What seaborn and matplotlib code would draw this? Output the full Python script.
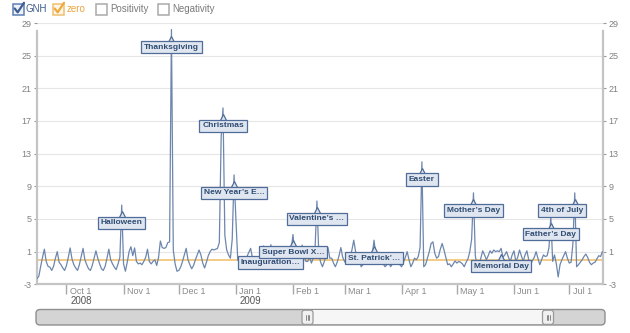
import numpy as np
import pandas as pd
import matplotlib
matplotlib.use("Agg")
import matplotlib.pyplot as plt
import matplotlib.dates as mdates
import matplotlib.transforms as mtransforms
from matplotlib.patches import Rectangle, FancyBboxPatch
import seaborn as sns

# ---------------- data (daily GNH index) ----------------
sep_2008 = [-2.3, -2.0, -0.8, 0.3, 1.3, -0.2, -0.8, -0.9, -1.3, -0.8, 0.2, 1.0, -0.3, -0.6, -1.0, -1.3]
oct_2008 = [-0.7, 0.3, 1.45, 0.1, -0.6, -1.0, -1.3, -0.6, 0.4, 1.4, 0.0, -0.6, -1.1, -1.3, -0.7, 0.2,
            1.1, 0.2, -0.5, -1.1, -1.3, -0.8, 0.2, 1.3, 0.0, -0.5, -0.9, -1.2, -0.5, 0.3, 6.7]
nov_2008 = [-0.5, -1.4, -0.3, 1.0, 1.6, 0.5, 1.45, -0.2, -0.5, -0.4, -0.6, -0.2, 0.3, 1.3, -0.2,
            -0.5, -0.2, 0.0, -0.7, 0.3, 2.3, 1.5, 1.4, 1.5, 2.1, 2.2, 28.2, 1.2, -0.5, -1.4]
dec_2008 = [-1.3, -0.9, -0.2, 0.6, 1.4, 0.0, -0.6, -1.1, -0.7, 0.0, 0.6, 1.2, 0.6, -0.4, -1.0, -0.3,
            0.5, 1.0, 1.3, 1.2, 1.3, 1.4, 2.1, 15.0, 18.6, 3.0, 1.2, 0.6, 0.2, 2.5, 10.4]
jan_2009 = [5.0, 0.0, -0.3, -0.2, -0.3, -0.1, 0.4, 0.9, 1.4, 0.2, -0.2, -0.3, -0.2, 0.1, 0.5, 1.7,
            0.4, 0.0, 0.3, 1.85, 0.2, 0.3, 1.0, 0.2, -0.1, -0.3, -0.2, 0.2, 0.6, 1.3, 1.2]
feb_2009 = [3.1, 0.4, 0.0, 0.4, 0.9, 1.8, 0.5, -0.2, -0.2, 0.3, -0.4, 0.2, 1.5, 7.2, 0.8, -0.3,
            -0.85, -0.2, 0.6, 1.5, 0.2, 0.2, -0.4, -0.85, -0.3, 0.5, 1.5, 0.3]
mar_2009 = [-0.2, -0.5, -0.3, 0.3, 1.2, 2.4, 1.0, 0.2, 0.2, -0.85, -0.6, -0.2, 0.4, 0.2, -0.3, 0.5,
            2.4, 0.5, -0.3, 0.4, -0.2, -0.5, -0.85, -0.6, -0.3, -0.85, -0.5, -0.2, 0.2, -0.4, -0.6]
apr_2009 = [-0.85, -0.3, 0.3, 1.0, 0.0, -0.85, -0.4, 0.2, 0.0, 0.4, 1.5, 12.0, -0.85, -0.6, 0.2,
            1.0, 2.0, 2.2, 0.8, 0.2, 0.4, 1.3, 2.0, 1.2, 0.3, -0.6, -0.5, -0.85, -0.5, -0.15]
may_2009 = [-0.4, -0.2, -0.3, -0.5, -0.85, -0.3, 0.1, 1.0, 2.5, 8.2, 0.5, -0.85, -0.6, 0.2, 1.1,
            0.6, 0.0, 0.5, 1.1, 0.8, 1.2, 1.0, 1.1, 1.0, 1.4, 0.3, 0.6, 1.0, 0.3, -0.2, 0.6]
jun_2009 = [1.1, -0.2, 0.3, 1.2, 0.5, -0.2, 0.6, 1.1, 0.0, -0.6, -0.1, 0.3, 1.0, 0.2, -0.6, 0.0,
            0.6, 0.4, 0.5, 1.5, 5.3, -0.2, 0.6, -0.5, -2.1, -0.6, 0.0, 0.5, 1.0, 0.2]
jul_2009 = [-0.4, -0.3, 2.0, 8.2, -0.85, -0.6, -0.3, 0.0, 0.4, 0.7, 0.3, -0.3, -0.6, -0.4, -0.3,
            0.1, 0.5, 0.4, 1.0]

event_names = ["Halloween", "Thanksgiving", "Christmas", "New Year\u2019s E\u2026",
               "Inauguration\u2026", "Super Bowl X\u2026", "Valentine\u2019s \u2026",
               "St. Patrick\u2019\u2026", "Easter", "Mother\u2019s Day", "Memorial Day",
               "Father\u2019s Day", "4th of July"]
event_dates = ["2008-10-31", "2008-11-27", "2008-12-25", "2008-12-31", "2009-01-20",
               "2009-02-01", "2009-02-14", "2009-03-17", "2009-04-12", "2009-05-10",
               "2009-05-25", "2009-06-21", "2009-07-04"]

month_ticks = ["2008-10-01", "2008-11-01", "2008-12-01", "2009-01-01", "2009-02-01",
               "2009-03-01", "2009-04-01", "2009-05-01", "2009-06-01", "2009-07-01"]
month_labels = ["Oct 1", "Nov 1", "Dec 1", "Jan 1", "Feb 1", "Mar 1", "Apr 1", "May 1",
                "Jun 1", "Jul 1"]
year_ticks = ["2008-10-01", "2009-01-01"]
year_labels = ["2008", "2009"]
y_ticks = [-3, 1, 5, 9, 13, 17, 21, 25, 29]

legend_names = ["GNH", "zero", "Positivity", "Negativity"]

values = (sep_2008 + oct_2008 + nov_2008 + dec_2008 + jan_2009 + feb_2009 + mar_2009 +
          apr_2009 + may_2009 + jun_2009 + jul_2009)
dates = pd.date_range("2008-09-15", periods=len(values), freq="D")
df = pd.DataFrame({"date": dates, "GNH": values})

# ---------------- style ----------------
sns.set_style("white")
plt.rcParams["font.family"] = ["Liberation Sans", "DejaVu Sans"]

W, H = 630, 333
fig = plt.figure(figsize=(W / 100, H / 100), dpi=100)
ax = fig.add_axes([37 / W, 1 - 284.3 / H, 566 / W, 261.3 / H])

line_c = "#6d86ad"
box_fc = "#dfe6ef"
box_ec = "#4f6d98"
box_tc = "#2f4b73"
axis_c = "#c4c4c4"

ax.axhline(0, color="#f2c77e", lw=1.3, zorder=2)
sns.lineplot(data=df, x="date", y="GNH", ax=ax, color=line_c, lw=0.9, zorder=3)

ax.set_xlim(pd.Timestamp("2008-09-15"), pd.Timestamp("2009-07-19 08:00"))
ax.set_ylim(-3, 29)
ax.set_xlabel("")
ax.set_ylabel("")

ax.set_yticks(y_ticks)
ax.set_yticklabels([str(v) for v in y_ticks])
ax.grid(axis="y", color="#e6e6e6", lw=0.8)
ax.grid(axis="x", visible=False)
ax.set_axisbelow(True)
ax.tick_params(axis="y", left=True, right=True, labelleft=True, labelright=True,
               length=2.5, width=0.8, color="#999999", labelsize=6.5,
               labelcolor="#808080", pad=1.5)

ax.set_xticks([pd.Timestamp(d) for d in month_ticks])
ax.tick_params(axis="x", bottom=True, length=7, width=1, color="#a8a8a8",
               labelbottom=False, direction="out")

for s in ["left", "right"]:
    ax.spines[s].set_color(axis_c)
    ax.spines[s].set_linewidth(1.6)
    ax.spines[s].set_bounds(-3, 28)
ax.spines["bottom"].set_color(axis_c)
ax.spines["bottom"].set_linewidth(1.6)
ax.spines["top"].set_visible(False)

# month / year labels
blend = mtransforms.blended_transform_factory(ax.transData, ax.transAxes)
m_tr = blend + mtransforms.ScaledTranslation(0.035, -0.074, fig.dpi_scale_trans)
y_tr = blend + mtransforms.ScaledTranslation(0.038, -0.167, fig.dpi_scale_trans)
for d, lab in zip(month_ticks, month_labels):
    ax.text(mdates.date2num(pd.Timestamp(d)), 0, lab, transform=m_tr, ha="left",
            va="center", fontsize=6.5, color="#8a8a8a", clip_on=False)
for d, lab in zip(year_ticks, year_labels):
    ax.text(mdates.date2num(pd.Timestamp(d)), 0, lab, transform=y_tr, ha="left",
            va="center", fontsize=7, color="#555555", clip_on=False)

# event flags
caret_tr = mtransforms.offset_copy(ax.transData, fig=fig, x=0, y=-10, units="dots")
for name, d in zip(event_names, event_dates):
    ts = pd.Timestamp(d)
    v = df.loc[df["date"] == ts, "GNH"].iloc[0]
    xn = mdates.date2num(ts)
    dx = -13 if name.startswith("4th") else 0
    ax.plot([xn], [v], marker="^", ms=5.5, mfc=box_fc, mec=box_ec, mew=0.9,
            transform=caret_tr, zorder=6, clip_on=False, linestyle="none")
    ax.annotate(name, xy=(xn, v), xytext=(dx * 0.72, -14.3 * 0.72),
                textcoords="offset points", ha="center", va="top", fontsize=6,
                fontweight="bold", color=box_tc, zorder=7, annotation_clip=False,
                bbox=dict(boxstyle="square,pad=0.32", fc=box_fc, ec=box_ec, lw=0.9))

# ---------------- overlay: legend + scrollbar (pixel coordinates) ----------------
oax = fig.add_axes([0, 0, 1, 1])
oax.set_xlim(0, W)
oax.set_ylim(H, 0)
oax.axis("off")
oax.patch.set_visible(False)

boxes = [(12.5, "#eef2f8", "#5d7fb5", "#3f5f93", 26, "#3e5c8a"),
         (52.5, "#fdf6e8", "#f0c070", "#eeaa40", 67, "#e9a53f"),
         (96.0, "white", "#aaaaaa", None, 110, "#7a7a7a"),
         (157.5, "white", "#aaaaaa", None, 172, "#7a7a7a")]
for name, (bx, fc, ec, ck, tx, tc) in zip(legend_names, boxes):
    oax.add_patch(Rectangle((bx, 3.5), 11, 11, fc=fc, ec=ec, lw=1.1))
    if ck:
        oax.plot([bx + 2.2, bx + 5.2, bx + 11.5], [8.5, 12.3, 2.8], color=ck, lw=1.6,
                 solid_capstyle="round")
    oax.text(tx, 9.3, name, va="center", ha="left", fontsize=7, color=tc)

oax.add_patch(FancyBboxPatch((36, 309.5), 569, 15.5,
                             boxstyle="round,pad=0,rounding_size=4",
                             fc="#d4d4d4", ec="#8f8f8f", lw=1))
oax.add_patch(Rectangle((313, 310.2), 229.5, 14.2, fc="#f6f6f6", ec="none"))
for hx in (302, 542.5):
    oax.add_patch(FancyBboxPatch((hx, 310.2), 11, 14.2,
                                 boxstyle="round,pad=0,rounding_size=2.5",
                                 fc="#f0f0f0", ec="#9a9a9a", lw=0.9))
    for k in range(3):
        oax.plot([hx + 4 + 1.5 * k] * 2, [314.5, 320], color="#777777", lw=0.6)

fig.savefig("out.png", dpi=100)
